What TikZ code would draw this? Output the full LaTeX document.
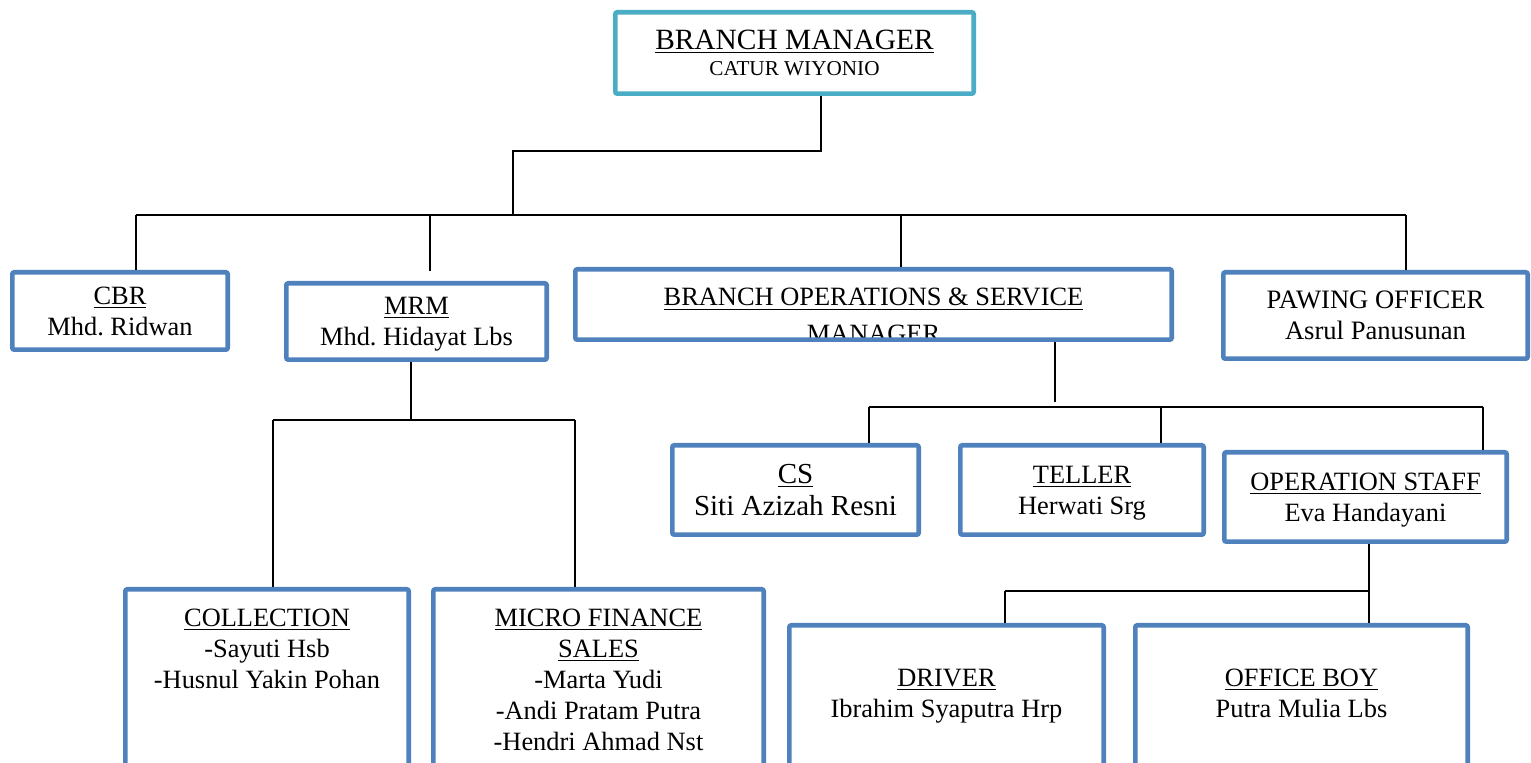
\documentclass[tikz,border=0pt]{standalone}
\usepackage{fontspec}
\setmainfont{Liberation Serif}
\frenchspacing
\usetikzlibrary{positioning}
\definecolor{boxblue}{RGB}{79,129,189}
\definecolor{headteal}{RGB}{75,172,198}
\tikzstyle{OrgBox}=[rectangle, draw=boxblue, line width=2.3pt, rounded corners=1pt, align=center, inner sep=0pt, text depth=0pt, font=\fontsize{13.2}{15.5}\selectfont]
\tikzstyle{HeadBox}=[OrgBox, draw=headteal, font=\fontsize{10.6}{13}\selectfont]
\tikzstyle{LowBox}=[OrgBox, anchor=north, text depth=110pt]
\tikzstyle{OrgEdge}=[line width=1pt]

\begin{document}
\begin{tikzpicture}[x=0.5pt, y=-0.5pt]
\useasboundingbox (0,0) rectangle (1531,763);

% top level
\node[HeadBox, minimum width=179.2pt, minimum height=40.7pt](bm) at (794.5,53) {{\fontsize{14.7}{13}\selectfont\underline{BRANCH MANAGER}}\\CATUR WIYONIO};

% second level
\node[OrgBox, minimum width=107.7pt, minimum height=38.7pt](cbr) at (120,311) {\underline{CBR}\\Mhd. Ridwan};
\node[OrgBox, minimum width=130.2pt, minimum height=38.2pt](mrm) at (416.5,321.5) {\underline{MRM}\\Mhd. Hidayat Lbs};
\begin{scope}
\clip (575,269) rectangle (1172,339);
\node[inner sep=0pt, anchor=north, align=center, font=\fontsize{13.2}{15.5}\selectfont](bosmText) at (873.5,288) {\underline{BRANCH OPERATIONS \& SERVICE}\\[3pt]MANAGER};
\end{scope}
\node[OrgBox, minimum width=298.2pt, minimum height=35.2pt](bosm) at (873.5,304.5) {};
\node[OrgBox, minimum width=152.2pt, minimum height=43.2pt, font=\fontsize{13.3}{15.5}\selectfont](paw) at (1375.5,315.5) {PAWING OFFICER\\Asrul Panusunan};

% operations staff
\node[OrgBox, minimum width=123.2pt, minimum height=44.7pt, font=\fontsize{14.5}{16}\selectfont](cs) at (795.5,490) {\underline{CS}\\Siti Azizah Resni};
\node[OrgBox, minimum width=121.7pt, minimum height=44.7pt](teller) at (1082,490) {\underline{TELLER}\\Herwati Srg};
\node[OrgBox, minimum width=141.2pt, minimum height=44.7pt](ops) at (1365.5,497) {\underline{OPERATION STAFF}\\Eva Handayani};

% bottom level
\node[LowBox, minimum width=141.7pt, inner ysep=10pt](coll) at (267,587) {\underline{COLLECTION}\\-Sayuti Hsb\\-Husnul Yakin Pohan};
\node[LowBox, minimum width=165.2pt, inner ysep=10pt](mfs) at (598.5,587) {\underline{MICRO FINANCE}\\\underline{SALES}\\-Marta Yudi\\-Andi Pratam Putra\\-Hendri Ahmad Nst};
\node[LowBox, minimum width=157.2pt, inner ysep=22pt](driver) at (946.5,623) {\underline{DRIVER}\\Ibrahim Syaputra Hrp};
\node[LowBox, minimum width=166.2pt, inner ysep=22pt](boy) at (1301.5,623) {\underline{OFFICE BOY}\\Putra Mulia Lbs};

% junctions
\coordinate (bmTurn) at (821,151);
\coordinate (bmTrunk) at (513,151);
\coordinate (mainL) at (136,215);
\coordinate (mainR) at (1406,215);
\coordinate (mrmDrop) at (430,215);
\coordinate (bosmDrop) at (901,215);
\coordinate (mrmFork) at (411,420);
\coordinate (collFork) at (273,420);
\coordinate (mfsFork) at (575,420);
\coordinate (bosmFork) at (1055,407);
\coordinate (csFork) at (869,407);
\coordinate (tellerFork) at (1161,407);
\coordinate (opsFork) at (1483,407);
\coordinate (opsDrop) at (1369,591);
\coordinate (driverFork) at (1005,591);

% connectors
\draw[OrgEdge](bm.south -| bmTurn) -- (bmTurn) -- (bmTrunk) -- (bmTrunk |- mainL);
\draw[OrgEdge](mainL) -- (mainR);
\draw[OrgEdge](mainL) -- (mainL |- cbr.north);
\draw[OrgEdge, shorten >=5pt](mrmDrop) -- (mrmDrop |- mrm.north);
\draw[OrgEdge](bosmDrop) -- (bosmDrop |- bosm.north);
\draw[OrgEdge](mainR) -- (mainR |- paw.north);

\draw[OrgEdge](mrm.south -| mrmFork) -- (mrmFork);
\draw[OrgEdge](collFork) -- (mfsFork);
\draw[OrgEdge](collFork) -- (collFork |- coll.north);
\draw[OrgEdge](mfsFork) -- (mfsFork |- mfs.north);

\draw[OrgEdge, shorten >=2.5pt](bosm.south -| bosmFork) -- (bosmFork);
\draw[OrgEdge](csFork) -- (opsFork);
\draw[OrgEdge](csFork) -- (csFork |- cs.north);
\draw[OrgEdge](tellerFork) -- (tellerFork |- teller.north);
\draw[OrgEdge](opsFork) -- (opsFork |- ops.north);

\draw[OrgEdge](ops.south -| opsDrop) -- (opsDrop) -- (opsDrop |- boy.north);
\draw[OrgEdge](driverFork) -- (opsDrop);
\draw[OrgEdge](driverFork) -- (driverFork |- driver.north);
\end{tikzpicture}
\end{document}
